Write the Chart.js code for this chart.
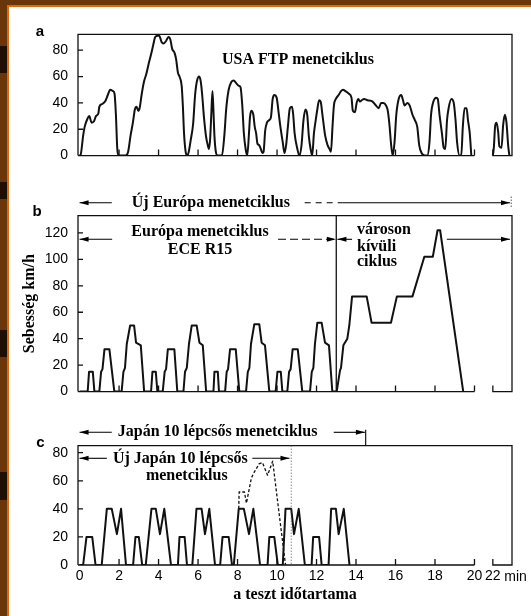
<!DOCTYPE html>
<html>
<head>
<meta charset="utf-8">
<title>Menetciklusok</title>
<script src="https://cdn.jsdelivr.net/npm/chart.js@4.4.1/dist/chart.umd.min.js"></script>
<style>
  html, body { margin: 0; padding: 0; background: #fff; }
  #page { position: relative; width: 531px; height: 616px; overflow: hidden; background: #fff; }
  #page canvas { position: absolute; left: 0; }
  .band { position: absolute; background: #6a3609; z-index: 5; }
  .edge { position: absolute; background: #d66b10; z-index: 6; }
  .patch { position: absolute; left: 0; width: 7px; background: #1e0e04; z-index: 7; }
</style>
</head>
<body>
<div id="page">
  <canvas id="chartA" width="531" height="158" style="top:16px"></canvas>
  <canvas id="chartB" width="531" height="222" style="top:188px"></canvas>
  <canvas id="chartC" width="531" height="196" style="top:420px"></canvas>
  <div class="band" style="left:0;top:0;width:531px;height:5px"></div>
  <div class="band" style="left:0;top:0;width:7px;height:616px"></div>
  <div class="edge" style="left:7px;top:5px;width:524px;height:2px"></div>
  <div class="edge" style="left:7px;top:5px;width:1.5px;height:611px"></div>
  <div class="patch" style="top:46px;height:27px"></div>
  <div class="patch" style="top:182px;height:17px"></div>
  <div class="patch" style="top:330px;height:27px"></div>
  <div class="patch" style="top:472px;height:28px"></div>
</div>
<script>
// shared time axis (minutes), with a break between 20 and the last mark
var timeTicks = [0, 2, 4, 6, 8, 10, 12, 14, 16, 18, 20, 20.93];
var timeTickLabels = ['0', '2', '4', '6', '8', '10', '12', '14', '16', '18', '20', '22'];
var timeMin = -0.08, timeMax = 21.9;
var breakFrom = 20, breakTo = 20.93;

// a: USA FTP
var ftpTicks = [0, 20, 40, 60, 80];
var ftpMinutes = [0, 0.06, 0.18, 0.26, 0.40, 0.49, 0.61, 0.73, 0.83, 0.95, 1.00, 1.12, 1.29, 1.43, 1.55, 1.69, 1.77, 1.84, 1.91, 1.98,
  2.32, 2.46, 2.58, 2.70, 2.80, 2.89, 2.97, 3.04, 3.14, 3.26, 3.38, 3.52, 3.64, 3.73, 3.83, 3.95, 4.03, 4.16, 4.24, 4.38,
  4.50, 4.60, 4.69, 4.81, 4.89, 4.98, 5.06, 5.17, 5.23, 5.29, 5.37, 5.44, 5.53, 5.63, 5.75, 5.85, 5.95, 6.06, 6.14, 6.21,
  6.30, 6.40, 6.49, 6.55, 6.61, 6.67, 6.73, 6.78, 6.83, 6.90, 6.98, 7.21, 7.33, 7.43, 7.55, 7.69, 7.81, 7.93, 8.06, 8.15,
  8.24, 8.32, 8.41, 8.49, 8.58, 8.63, 8.70, 8.80, 8.87, 8.94, 9.01, 9.09, 9.18, 9.26, 9.32, 9.40, 9.49, 9.61, 9.69, 9.78,
  9.86, 9.98, 10.07, 10.17, 10.29, 10.38, 10.46, 10.55, 10.65, 10.76, 10.82, 10.89, 11.03, 11.13, 11.24, 11.34, 11.44, 11.53, 11.61, 11.70,
  11.78, 11.87, 11.96, 12.04, 12.13, 12.21, 12.30, 12.44, 12.56, 12.66, 12.73, 12.81, 12.88, 12.98, 13.12, 13.24, 13.34, 13.46, 13.64, 13.77,
  13.84, 13.95, 14.03, 14.12, 14.20, 14.29, 14.41, 14.58, 14.84, 15.01, 15.15, 15.27, 15.39, 15.52, 15.61, 15.69, 15.78, 15.86, 15.95, 16.04,
  16.16, 16.29, 16.38, 16.46, 16.60, 16.72, 16.86, 16.98, 17.10, 17.20, 17.32, 17.49, 17.61, 17.72, 17.80, 17.92, 18.06, 18.14, 18.23, 18.35,
  18.44, 18.52, 18.61, 18.69, 18.83, 18.95, 19.04, 19.12, 19.24, 19.33, 19.41, 19.50, 19.60, 19.67, 19.76, 19.84];
var ftpSpeed = [0, 1, 15, 22, 28, 30, 25, 26, 30, 32, 37, 39, 41, 46, 50, 49, 47, 31, 5, 0,
  0, 3, 15, 25, 35, 37, 34, 36, 46, 56, 62, 71, 78, 84, 90, 91, 91, 86, 85, 87,
  90, 88, 81, 78, 73, 63, 60, 53, 38, 17, 3, 0, 3, 12, 24, 46, 57, 60, 56, 46,
  29, 15, 8, 5, 12, 31, 49, 34, 15, 3, 0, 0, 15, 36, 50, 56, 57, 55, 53, 52,
  38, 17, 5, 0, 17, 29, 34, 31, 22, 17, 9, 8, 5, 2, 3, 19, 25, 27, 29, 43,
  46, 44, 34, 22, 10, 2, 8, 22, 36, 37, 31, 17, 5, 0, 8, 27, 35, 31, 15, 5,
  0, 17, 27, 35, 42, 41, 31, 15, 8, 5, 3, 22, 38, 43, 46, 49, 50, 49, 47, 44,
  34, 33, 40, 43, 41, 42, 43, 42, 41, 38, 36, 40, 40, 38, 34, 24, 8, 0, 10, 31,
  43, 46, 42, 38, 40, 38, 31, 27, 22, 8, 2, 0, 0, 10, 31, 41, 44, 43, 31, 17,
  6, 5, 27, 36, 43, 40, 27, 10, 0, 0, 22, 36, 36, 27, 17, 0];
var ftpHotMinutes = [20.93, 20.98, 21.05, 21.12, 21.20, 21.26, 21.37, 21.45, 21.54, 21.62, 21.71, 21.77];
var ftpHotSpeed = [0, 6, 23, 25, 18, 7, 6, 23, 31, 25, 7, 0];

// b: Europa ECE R15 + varoson kivuli ciklus
var euTicks = [0, 20, 40, 60, 80, 100, 120];
var euMinutes = [0, 0.41, 0.48, 0.67, 0.75, 1.00, 1.09, 1.16, 1.26, 1.51, 1.76, 2.13, 2.22, 2.30, 2.39, 2.56, 2.76, 2.86, 3.10, 3.27,
  3.62, 3.69, 3.86, 3.94, 4.21, 4.31, 4.38, 4.47, 4.80, 4.95, 5.26, 5.34, 5.43, 5.54, 5.68, 5.93, 6.07, 6.24, 6.41,
  6.78, 6.83, 7.00, 7.06, 7.37, 7.45, 7.52, 7.62, 7.91, 8.09, 8.43, 8.52, 8.60, 8.68, 8.85, 9.10, 9.22, 9.39, 9.61,
  9.93, 10.02, 10.19, 10.27, 10.52, 10.61, 10.69, 10.79, 11.05, 11.28, 11.67, 11.76, 11.84, 11.92, 12.04, 12.26, 12.43, 12.63, 12.80,
  13.02, 13.19, 13.24, 13.36, 13.56, 13.66, 13.80, 14.54, 14.79, 15.77, 16.07, 16.86, 17.46, 17.89, 18.13, 18.26, 19.43];
var euSpeed = [0, 0, 15, 15, 0, 0, 15, 17, 32, 32, 0, 0, 15, 18, 36, 50, 50, 37, 35, 0,
  0, 15, 15, 0, 0, 15, 17, 32, 32, 0, 0, 15, 18, 36, 50, 50, 37, 35, 0,
  0, 15, 15, 0, 0, 15, 17, 32, 32, 0, 0, 15, 18, 36, 51, 51, 37, 35, 0,
  0, 15, 15, 0, 0, 15, 17, 32, 32, 0, 0, 15, 18, 36, 52, 52, 37, 35, 0,
  0, 16, 18, 35, 40, 50, 72, 72, 52, 52, 72, 72, 102, 102, 122, 122, 0];

// c: Japan 10 lepcsos / uj Japan 10 lepcsos
var jpTicks = [0, 20, 40, 60, 80];
var jpMinutes = [0, 0.18, 0.35, 0.64, 0.81, 1.12, 1.38, 1.63, 1.89, 2.10, 2.35,
  2.71, 2.83, 3.00, 3.17, 3.35, 3.64, 3.86, 4.07, 4.29, 4.63,
  4.98, 5.06, 5.32, 5.44, 5.71, 5.92, 6.18, 6.35, 6.57, 6.86,
  7.12, 7.24, 7.55, 7.72, 7.81, 8.06, 8.32, 8.58, 8.80, 9.14,
  9.52, 9.61, 9.86, 10.04, 10.29, 10.43, 10.72, 10.86, 11.10, 11.41,
  11.75, 11.83, 12.13, 12.26, 12.61, 12.74, 12.98, 13.12, 13.38, 13.67];
var jpSpeed = [0, 0, 20, 20, 0, 0, 40, 40, 22, 40, 0,
  0, 20, 20, 0, 0, 40, 40, 22, 40, 0,
  0, 20, 20, 0, 0, 40, 40, 22, 40, 0,
  0, 20, 20, 0, 0, 40, 40, 22, 40, 0,
  0, 20, 20, 0, 0, 40, 40, 22, 40, 0,
  0, 20, 20, 0, 0, 40, 40, 22, 40, 0];
var jpNewMinutes = [8.06, 8.08, 8.35, 8.45, 8.70, 8.84, 9.09, 9.26, 9.52, 9.78, 10.12, 10.43];
var jpNewSpeed = [40, 52, 52, 44, 62, 66, 72, 73, 64, 74, 35, 0];

var serifBold = 'bold 16px "Liberation Serif"';
var sansBold = 'bold 15px "Liberation Sans"';
var tickFont = { family: 'Liberation Sans', size: 14 };

function pairs(ts, vs) {
  return ts.map((t, i) => ({ x: t, y: vs[i] }));
}

function head(ctx, x, y, dir) {
  ctx.beginPath();
  ctx.moveTo(x, y);
  ctx.lineTo(x - dir * 9, y - 2.5);
  ctx.lineTo(x - dir * 9, y + 2.5);
  ctx.closePath();
  ctx.fill();
}

// box round each panel, inward ticks, the axis break
var framePlugin = {
  id: 'frame',
  afterDatasetsDraw(chart, args, o) {
    const { ctx, chartArea: a, scales: { x, y } } = chart;
    const xb = x.getPixelForValue(breakFrom), xr = x.getPixelForValue(breakTo);
    ctx.save();
    ctx.strokeStyle = '#111';
    ctx.lineWidth = 1.3;
    ctx.beginPath();
    ctx.moveTo(a.left, a.bottom); ctx.lineTo(a.left, a.top);
    ctx.lineTo(a.right, a.top); ctx.lineTo(a.right, a.bottom);
    ctx.lineTo(xr, a.bottom); ctx.lineTo(xr, a.bottom - 6);
    ctx.moveTo(a.left, a.bottom); ctx.lineTo(xb, a.bottom);
    timeTicks.forEach(v => {
      if (v === 0 || v > breakFrom) return;
      const px = x.getPixelForValue(v);
      ctx.moveTo(px, a.bottom); ctx.lineTo(px, a.bottom - 6);
    });
    y.ticks.forEach(t => {
      const py = y.getPixelForValue(t.value);
      ctx.moveTo(a.left, py); ctx.lineTo(a.left + 5, py);
    });
    if (o.divider !== undefined) {
      const px = x.getPixelForValue(o.divider);
      ctx.moveTo(px, a.top); ctx.lineTo(px, a.bottom);
    }
    ctx.stroke();
    ctx.restore();
  }
};

// texts and arrows placed in minutes along x, in px from the panel top along y
var notesPlugin = {
  id: 'notes',
  afterDraw(chart, args, o) {
    const { ctx, chartArea: a, scales: { x } } = chart;
    ctx.save();
    ctx.fillStyle = '#000';
    ctx.strokeStyle = '#000';
    (o.arrows || []).forEach(ar => {
      const y = a.top + ar.dy;
      const x0 = x.getPixelForValue(ar.from), x1 = x.getPixelForValue(ar.to);
      ctx.lineWidth = 1.1;
      ctx.setLineDash(ar.dash || []);
      ctx.beginPath(); ctx.moveTo(x0, y); ctx.lineTo(x1, y); ctx.stroke();
      ctx.setLineDash([]);
      if (ar.head === 'start') head(ctx, x0, y, -1);
      if (ar.head === 'end') head(ctx, x1, y, 1);
    });
    (o.lines || []).forEach(ln => {
      const px = x.getPixelForValue(ln.t);
      ctx.lineWidth = ln.width || 1.1;
      ctx.strokeStyle = ln.color || '#000';
      ctx.setLineDash(ln.dash || []);
      ctx.beginPath();
      ctx.moveTo(px, a.top + ln.dy0);
      ctx.lineTo(px, ln.dy1 === 'bottom' ? a.bottom : a.top + ln.dy1);
      ctx.stroke();
      ctx.setLineDash([]);
    });
    (o.texts || []).forEach(tx => {
      ctx.font = tx.font || serifBold;
      ctx.fillStyle = '#000';
      ctx.textAlign = tx.align || 'center';
      ctx.textBaseline = 'middle';
      const px = tx.px !== undefined ? tx.px : x.getPixelForValue(tx.t) + (tx.dx || 0);
      ctx.fillText(tx.text, px, a.top + tx.dy);
    });
    ctx.restore();
  }
};

function panel(canvasId, cfg) {
  const xScale = {
    type: 'linear', min: timeMin, max: timeMax, display: !!cfg.showX,
    grid: { display: false, drawTicks: false }, border: { display: false },
    afterBuildTicks: s => { s.ticks = timeTicks.map(v => ({ value: v })); },
    ticks: { autoSkip: false, maxRotation: 0, padding: 3, color: '#000', font: tickFont,
      callback: (v, i) => timeTickLabels[i] },
    title: cfg.xTitle || { display: false }
  };
  if (cfg.showX) xScale.afterFit = s => { s.height = 51; };
  return new Chart(document.getElementById(canvasId), {
    type: 'line',
    data: { datasets: cfg.datasets },
    options: {
      responsive: false,
      animation: false,
      devicePixelRatio: 1,
      layout: { padding: cfg.padding },
      elements: { point: { radius: 0 }, line: { borderColor: '#111', borderWidth: 2, borderJoinStyle: 'round', tension: 0 } },
      plugins: { legend: { display: false }, tooltip: { enabled: false }, frame: cfg.frame || {}, notes: cfg.notes },
      scales: {
        x: xScale,
        y: {
          min: 0, max: cfg.yMax,
          grid: { display: false, drawTicks: false }, border: { display: false },
          afterBuildTicks: s => { s.ticks = cfg.yTicks.map(v => ({ value: v })); },
          ticks: { padding: 10, color: '#000', font: tickFont },
          afterFit: s => { s.width = 78; },
          title: cfg.yTitle || { display: false }
        }
      }
    },
    plugins: [framePlugin, notesPlugin]
  });
}

panel('chartA', {
  padding: { top: 18.3, bottom: 8.5, left: 0, right: 19 },
  yMax: 92, yTicks: ftpTicks,
  datasets: [
    { data: pairs(ftpMinutes, ftpSpeed), cubicInterpolationMode: 'monotone' },
    { data: pairs(ftpHotMinutes, ftpHotSpeed), cubicInterpolationMode: 'monotone' }
  ],
  notes: {
    texts: [
      { text: 'a', px: 40, dy: -2.6, font: sansBold },
      { text: 'USA FTP menetciklus', t: 11.06, dy: 25.7 }
    ]
  }
});

panel('chartB', {
  padding: { top: 27.7, bottom: 6, left: 0, right: 19 },
  yMax: 133, yTicks: euTicks,
  yTitle: { display: true, text: 'Sebesség km/h', color: '#000', font: { family: 'Liberation Serif', size: 16, weight: 'bold' }, padding: { top: 20.4 } },
  datasets: [{ data: pairs(euMinutes, euSpeed) }],
  frame: { divider: 13.0 },
  notes: {
    texts: [
      { text: 'b', px: 37, dy: -4, font: sansBold },
      { text: 'Új Európa menetciklus', t: 6.65, dy: -13 },
      { text: 'Európa menetciklus', t: 6.1, dy: 16 },
      { text: 'ECE R15', t: 6.1, dy: 34.3 },
      { text: 'városon', t: 14.05, dy: 14.3, align: 'left' },
      { text: 'kívüli', t: 14.05, dy: 31, align: 'left' },
      { text: 'ciklus', t: 14.05, dy: 46, align: 'left' }
    ],
    arrows: [
      { from: 0, to: 1.63, dy: -13, head: 'start' },
      { from: 11.4, to: 13.3, dy: -13, dash: [6, 5] },
      { from: 13.3, to: 21.8, dy: -13, head: 'end' },
      { from: 0, to: 1.65, dy: 23.6, head: 'start' },
      { from: 10.05, to: 12.98, dy: 23.6, head: 'end', dash: [8, 4] },
      { from: 13.06, to: 13.8, dy: 23.6, head: 'start' },
      { from: 18.6, to: 21.8, dy: 23.6, head: 'end' }
    ],
    lines: [{ t: 21.86, dy0: -19, dy1: -7, width: 1, dash: [1, 2] }]
  }
});

panel('chartC', {
  padding: { top: 25.7, bottom: 0, left: 0, right: 19 },
  yMax: 85, yTicks: jpTicks, showX: true,
  xTitle: { display: true, text: 'a teszt időtartama', color: '#000', font: { family: 'Liberation Serif', size: 16, weight: 'bold' }, padding: { top: 0, bottom: 11.4 } },
  datasets: [
    { data: pairs(jpMinutes, jpSpeed) },
    { data: pairs(jpNewMinutes, jpNewSpeed), borderWidth: 1.3, borderDash: [3, 2] }
  ],
  notes: {
    texts: [
      { text: 'c', px: 40.5, dy: -2.4, font: sansBold },
      { text: 'Japán 10 lépcsős menetciklus', t: 6.99, dy: -13.4 },
      { text: 'Új Japán 10 lépcsős', t: 5.1, dy: 13.6 },
      { text: 'menetciklus', t: 5.43, dy: 30.3 },
      { text: 'min', t: 20.93, dx: 11.5, dy: 131.1, align: 'left', font: '14px "Liberation Sans"' }
    ],
    arrows: [
      { from: 0, to: 1.63, dy: -13.4, head: 'start' },
      { from: 12.87, to: 14.45, dy: -13.4, head: 'end' },
      { from: 0, to: 1.38, dy: 12.6, head: 'start' },
      { from: 8.75, to: 10.63, dy: 12.6, head: 'end' }
    ],
    lines: [
      { t: 14.49, dy0: -16, dy1: 0, width: 1.1 },
      { t: 10.72, dy0: 0, dy1: 'bottom', width: 1, dash: [1, 2], color: '#555' }
    ]
  }
});
</script>
</body>
</html>
